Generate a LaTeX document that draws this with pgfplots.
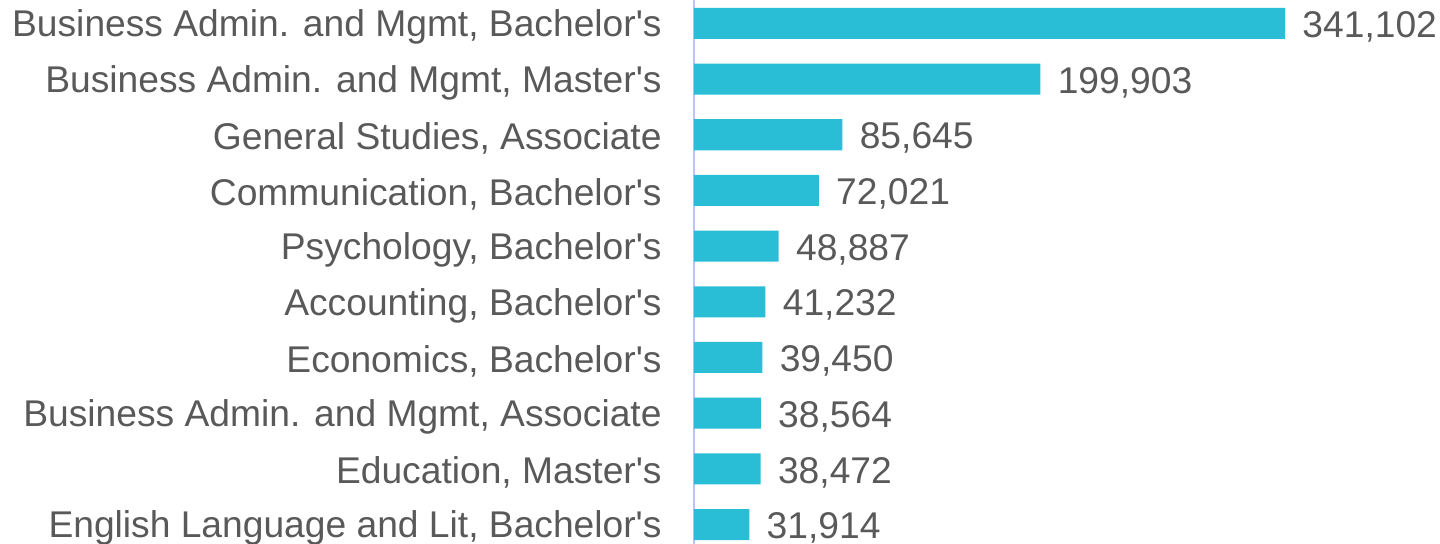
\documentclass[border=0pt]{standalone}
\usepackage{fontspec}
\setmainfont{Liberation Sans}
\usepackage{pgfplots}
\pgfplotsset{compat=1.18}
\definecolor{barcyan}{RGB}{42,190,214}
\definecolor{labgray}{RGB}{89,89,89}
\definecolor{axlav}{RGB}{188,195,248}
\newcommand{\q}{\textquotesingle}

\begin{document}
\begin{tikzpicture}
\begin{axis}[
    at={(0,0)}, anchor=south west,
    scale only axis,
    width=373pt, height=272pt,
    xbar, bar width=0.557,
    xmin=0, xmax=430500,
    ymin=-0.42, ymax=9.35,
    y dir=reverse,
    axis x line=none,
    axis y line=left,
    y axis line style={axlav, line width=1.2pt, -},
    ytick={0,...,9},
    major tick length=0pt,
    yticklabels={
      {Business Admin. and Mgmt, Bachelor\q s},
      {Business Admin. and Mgmt, Master\q s},
      {General Studies, Associate},
      {Communication, Bachelor\q s},
      {Psychology, Bachelor\q s},
      {Accounting, Bachelor\q s},
      {Economics, Bachelor\q s},
      {Business Admin. and Mgmt, Associate},
      {Education, Master\q s},
      {English Language and Lit, Bachelor\q s}},
    y tick label style={font=\fontsize{18.6}{21}\selectfont, text=labgray, anchor=east, inner sep=0pt, yshift=-1.8pt},
    yticklabel shift=16pt,
    point meta=explicit symbolic,
    nodes near coords,
    nodes near coords style={font=\fontsize{18.6}{21}\selectfont, text=labgray, anchor=west, inner sep=0pt, xshift=8.5pt, yshift=-1.8pt},
    clip=false,
]
\addplot[fill=barcyan, draw=none] coordinates {
  (341102,0) [341,102]
  (199903,1) [199,903]
  (85645,2) [85,645]
  (72021,3) [72,021]
  (48887,4) [48,887]
  (41232,5) [41,232]
  (39450,6) [39,450]
  (38564,7) [38,564]
  (38472,8) [38,472]
  (31914,9) [31,914]
};
\end{axis}
\pgfresetboundingbox
\path[use as bounding box] (-347pt,0) rectangle (373pt,272pt);
\end{tikzpicture}
\end{document}
